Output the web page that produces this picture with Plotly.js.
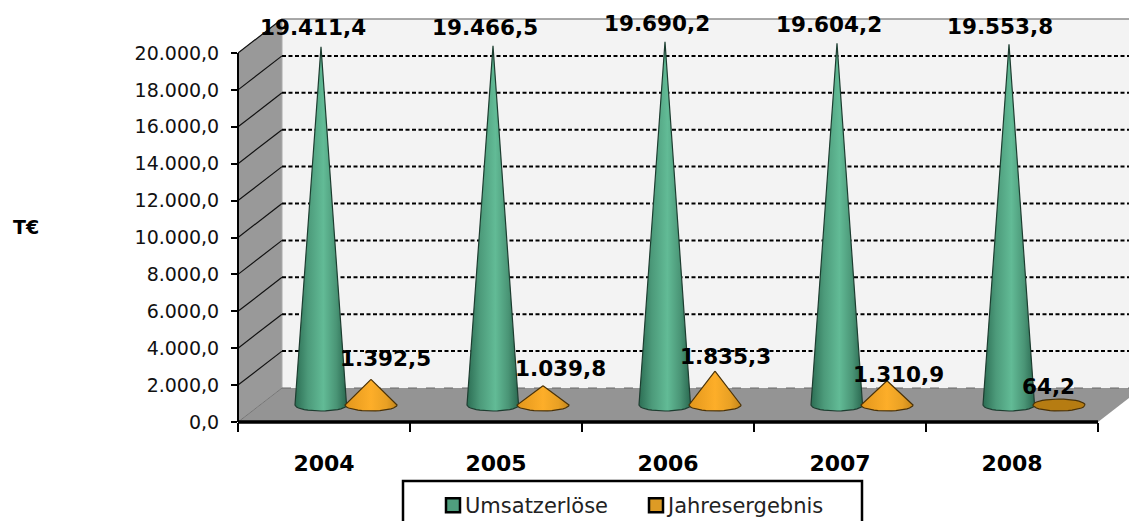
<!DOCTYPE html>
<html><head><meta charset="utf-8">
<script src="https://cdn.plot.ly/plotly-3.0.1.min.js"></script>
<style>html,body{margin:0;padding:0;background:#fff;overflow:hidden}</style>
</head><body><div id="chart" style="width:1129px;height:521px"></div>
<script>
const years = ['2004','2005','2006','2007','2008'];
const umsatz = [19411.4,19466.5,19690.2,19604.2,19553.8];
const ergebnis = [1392.5,1039.8,1835.3,1310.9,64.2];
const yTicks = [0,2000,4000,6000,8000,10000,12000,14000,16000,18000,20000];

// chart frame in pixels
const W=1129,H=521,L=238,T=5,B=422,CAT=172,PXK=18.45;
const xMax=(W-L)/CAT, yMax=(B-T)/PXK*1000;
const px=v=>v/CAT, py=v=>v/PXK*1000;
const dx=px(44), dy=py(34), baseY=py(17);
const rx=px(26), ry=py(6);

function cone(cx,val,name,colors,lineCol){
  const xs=[],ys=[];
  const rad=Math.PI/180;
  if(val<ry){ // apex stays inside the base: only the base disc shows
    for(let a=0;a<=360;a+=10){
      xs.push(cx+rx*Math.cos(a*rad));
      ys.push(baseY+ry*Math.sin(a*rad));
    }
  } else {
    xs.push(cx); ys.push(baseY+val);
    for(let a=0;a<=180;a+=10){
      xs.push(cx+rx*Math.cos(a*rad));
      ys.push(baseY-ry*Math.sin(a*rad));
    }
    xs.push(cx); ys.push(baseY+val);
  }
  return {type:'scatter',mode:'lines',x:xs,y:ys,fill:'toself',name:name,showlegend:false,hoverinfo:'skip',
    line:{color:lineCol,width:1.2},
    fillgradient:{type:'horizontal',colorscale:colors}};
}
const greenCS=[[0,'#2c6e54'],[0.25,'#4c9a7a'],[0.55,'#62bb96'],[0.8,'#4a9576'],[1,'#2a6850']];
const orangeCS=[[0,'#e2961c'],[0.5,'#fdae29'],[0.8,'#e8a024'],[1,'#c4861a']];
const flatCS=[[0,'#b67c12'],[1,'#b67c12']];
const traces=[];
years.forEach((y,i)=>{
  traces.push(cone(i+px(83),umsatz[i],'Umsatzerlöse',greenCS,'#1d3d30'));
  traces.push(cone(i+px(133),ergebnis[i],'Jahresergebnis',ergebnis[i]<100?flatCS:orangeCS,'#4a3208'));
});
// legend entries
traces.push({type:'scatter',mode:'markers',x:[null],y:[null],name:'Umsatzerlöse',showlegend:true,
  marker:{symbol:'square',size:14,color:'#4f9f7e',line:{color:'#000',width:2.5}}});
traces.push({type:'scatter',mode:'markers',x:[null],y:[null],name:'Jahresergebnis',showlegend:true,
  marker:{symbol:'square',size:14,color:'#dd9b25',line:{color:'#000',width:2.5}}});

const pxX=v=>(v-L)/(W-L), pxY=v=>(B-v)/(B-T);
const xP=u=>u/xMax, yP=u=>u/yMax;

const shapes=[];
// back wall, side wall, floor
shapes.push({type:'rect',layer:'below',x0:dx,x1:xMax+1,y0:dy,y1:20000+dy,fillcolor:'#f3f3f3',line:{width:0}});
shapes.push({type:'line',layer:'below',x0:dx,x1:xMax+1,y0:20000+dy,y1:20000+dy,line:{color:'#8c8c8c',width:1.5}});
shapes.push({type:'path',layer:'below',path:`M0,0 L0,20000 L${dx},${20000+dy} L${dx},${dy} Z`,fillcolor:'#999999',line:{color:'#aaaaaa',width:1}});
shapes.push({type:'path',layer:'below',path:`M0,0 L5,0 L${5+dx},${dy} L${dx},${dy} Z`,fillcolor:'#949494',line:{width:0}});
yTicks.forEach(t=>{
  if(t===0){
    shapes.push({type:'line',layer:'below',x0:0,x1:dx,y0:0,y1:dy,line:{color:'#777',width:1}});
    shapes.push({type:'line',layer:'below',x0:dx,x1:xMax+1,y0:dy,y1:dy,line:{color:'#666',width:1,dash:'dash'}});
    return;
  }
  if(t<20000){
    shapes.push({type:'line',layer:'below',x0:dx,x1:xMax+1,y0:t+dy,y1:t+dy,line:{color:'#000',width:2,dash:'4px,2.5px'}});
  }
  shapes.push({type:'line',layer:'below',x0:0,x1:dx,y0:t,y1:t+dy,line:{color:'#111',width:1.2}});
});
// axis lines (paper reference so they are not clipped at the plot edge)
shapes.push({type:'line',xref:'paper',yref:'paper',layer:'above',x0:xP(0),x1:xP(5),y0:0,y1:0,line:{color:'#000',width:3.5}});
shapes.push({type:'line',xref:'paper',yref:'paper',layer:'above',x0:0,x1:0,y0:0,y1:yP(20000),line:{color:'#000',width:2}});
// legend frame, running past the bottom edge of the page
shapes.push({type:'rect',xref:'paper',yref:'paper',x0:pxX(403),x1:pxX(862),y0:pxY(540),y1:pxY(481),
  line:{color:'#000',width:2.5},fillcolor:'rgba(0,0,0,0)'});

// data labels, nudged the way the original's are
const fmt=v=>v.toLocaleString('de-DE',{minimumFractionDigits:1,maximumFractionDigits:1});
const lblFont={family:'DejaVu Sans',size:21.5,color:'#000',weight:700};
const annotations=[];
const uShift=[[-8,19],[-8,18],[-8,18],[-8,19],[-9,18]];
const eShift=[[14,21],[17,17],[10,15],[11,6],[-11,17]];
years.forEach((y,i)=>{
  annotations.push({x:i+px(83),y:baseY+umsatz[i],text:fmt(umsatz[i]),showarrow:false,font:lblFont,xshift:uShift[i][0],yshift:uShift[i][1]});
  annotations.push({x:i+px(133),y:baseY+ergebnis[i],text:fmt(ergebnis[i]),showarrow:false,font:lblFont,xshift:eShift[i][0],yshift:eShift[i][1]});
});
annotations.push({xref:'paper',yref:'paper',x:pxX(26),y:pxY(227),xanchor:'center',yanchor:'middle',text:'T€',showarrow:false,
  font:{family:'DejaVu Sans',size:19,color:'#000',weight:700}});

const layout={
  width:W,height:H,paper_bgcolor:'#fff',plot_bgcolor:'#fff',showlegend:true,
  margin:{l:L,r:0,t:T,b:H-B,autoexpand:false},
  xaxis:{range:[0,xMax],tickmode:'array',tickvals:years.map((y,i)=>i+0.5),ticktext:years,ticks:'',ticklen:0,
    ticklabelstandoff:26,tickfont:{family:'DejaVu Sans',size:22,color:'#000',weight:700},showgrid:false,zeroline:false,showline:false,
    minor:{tickmode:'array',tickvals:[0,1,2,3,4,5],ticks:'outside',ticklen:9,tickwidth:2,tickcolor:'#000',showgrid:false}},
  yaxis:{range:[0,yMax],tickmode:'array',tickvals:yTicks,tickformat:',.1f',ticks:'outside',ticklen:6,tickwidth:2,tickcolor:'#000',
    ticklabelstandoff:8,tickfont:{family:'DejaVu Sans',size:19,color:'#111'},showgrid:false,zeroline:false,showline:false},
  separators:',.',
  legend:{orientation:'h',x:pxX(425),y:pxY(485),xanchor:'left',yanchor:'top',bgcolor:'rgba(0,0,0,0)',borderwidth:0,
    entrywidth:158,entrywidthmode:'pixels',
    font:{family:'DejaVu Sans',size:21,color:'#222'},itemclick:false,itemdoubleclick:false,traceorder:'normal'},
  shapes,annotations
};
Plotly.newPlot('chart',traces,layout,{displayModeBar:false,staticPlot:true}).then(()=>{
  // bring the swatches closer to their text, as in the reference
  document.querySelectorAll('.legend .legendpoints').forEach(g=>g.setAttribute('transform','translate(8,0)'));
  // the fixed entry width must not cut the longer legend text off
  document.querySelectorAll('.legend [clip-path]').forEach(g=>g.removeAttribute('clip-path'));
  document.querySelectorAll('.legend [style*="clip-path"]').forEach(g=>{g.style.clipPath='';});
});
</script></body></html>
